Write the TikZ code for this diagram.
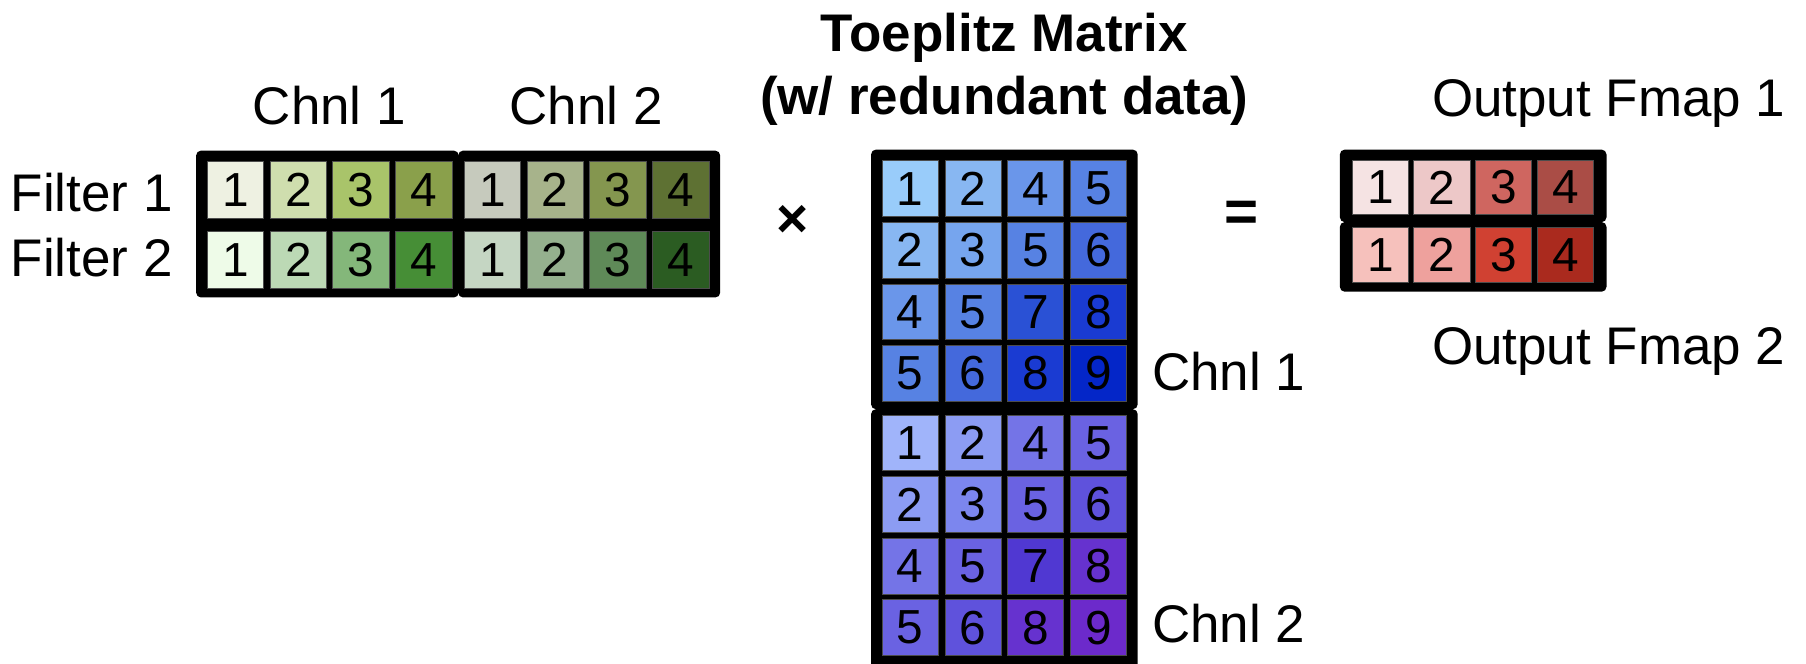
\documentclass[tikz,border=0pt]{standalone}
\usepackage{fontspec}
\setmainfont{Liberation Sans}
\usetikzlibrary{positioning}

% filter weights, channel 1 then channel 2
\definecolor{flt11}{HTML}{EEF1E2}\definecolor{flt12}{HTML}{CFDEAE}
\definecolor{flt13}{HTML}{A9C46A}\definecolor{flt14}{HTML}{8AA04B}
\definecolor{flt15}{HTML}{C6CABD}\definecolor{flt16}{HTML}{A7B38B}
\definecolor{flt17}{HTML}{84964F}\definecolor{flt18}{HTML}{5E7133}
\definecolor{flt21}{HTML}{EEFBE8}\definecolor{flt22}{HTML}{BCD9B5}
\definecolor{flt23}{HTML}{84B77A}\definecolor{flt24}{HTML}{468E36}
\definecolor{flt25}{HTML}{C5D6C3}\definecolor{flt26}{HTML}{95B08E}
\definecolor{flt27}{HTML}{5F8A58}\definecolor{flt28}{HTML}{2B5C22}
% input activations, one shade per value
\definecolor{tpz11}{HTML}{99CCFA}\definecolor{tpz12}{HTML}{88B7F2}
\definecolor{tpz13}{HTML}{76A5EE}\definecolor{tpz14}{HTML}{6A96EA}
\definecolor{tpz15}{HTML}{5782E3}\definecolor{tpz16}{HTML}{4469DC}
\definecolor{tpz17}{HTML}{2A51D5}\definecolor{tpz18}{HTML}{1A3BD2}
\definecolor{tpz19}{HTML}{0426C8}
\definecolor{tpz21}{HTML}{A0B4FA}\definecolor{tpz22}{HTML}{8C9CF3}
\definecolor{tpz23}{HTML}{7C86EE}\definecolor{tpz24}{HTML}{7474E7}
\definecolor{tpz25}{HTML}{6A62E2}\definecolor{tpz26}{HTML}{5F52DC}
\definecolor{tpz27}{HTML}{5038D2}\definecolor{tpz28}{HTML}{6632CF}
\definecolor{tpz29}{HTML}{6C2ACB}
% output fmaps
\definecolor{out11}{HTML}{F5E3E3}\definecolor{out12}{HTML}{EDC8C8}
\definecolor{out13}{HTML}{CF6660}\definecolor{out14}{HTML}{AA4D46}
\definecolor{out21}{HTML}{F6C1BC}\definecolor{out22}{HTML}{EEA19D}
\definecolor{out23}{HTML}{D04132}\definecolor{out24}{HTML}{AA2A1E}

\newcommand\pu{0.025cm}

\begin{document}
\begin{tikzpicture}[x=\pu,y=-\pu,inner sep=0pt,
                    font=\fontsize{32.7}{38}\selectfont]
  \tikzstyle{cell}=[draw=black!70,line width=0.5pt,minimum width=49*\pu,
                    minimum height=49*\pu,font=\fontsize{29.5}{30}\selectfont]
  \tikzstyle{blackbox}=[fill=black,rounded corners=3pt,anchor=north west]
  \tikzstyle{lbl}=[anchor=base west]

  \useasboundingbox (0,0) rectangle (1568,576);

  % black frames
  \node[blackbox,minimum width=228*\pu,minimum height=127.5*\pu] (box-c1) at (170,130.5) {};
  \node[blackbox,minimum width=227.5*\pu,minimum height=127.5*\pu] (box-c2) at (397.5,130.5) {};
  \node[blackbox,minimum width=231.5*\pu,minimum height=225.4*\pu] (box-t1) at (756,129.6) {};
  \node[blackbox,minimum width=231.5*\pu,minimum height=225*\pu] (box-t2) at (756,355) {};
  \node[blackbox,minimum width=231.5*\pu,minimum height=63*\pu] (box-o1) at (1163,129.6) {};
  \node[blackbox,minimum width=231.5*\pu,minimum height=60.5*\pu] (box-o2) at (1163,192.5) {};

  % filters
  \foreach \r/\y in {1/165,2/225.5}
    \foreach \j/\x in {1/204.5,2/259,3/313.5,4/368,5/427.5,6/482,7/536.5,8/591} {
      \pgfmathtruncatemacro\d{mod(\j-1,4)+1}
      \node[cell,fill=flt\r\j] (flt-\r-\j) at (\x,\y) {\d};
    }

  % toeplitz matrix, two channel blocks
  \foreach \b/\yo in {1/0,2/220.75}
    \foreach \r/\a in {1/0,2/1,3/3,4/4}
      \foreach \j/\c/\x in {1/1/790.25,2/2/844.75,3/4/899.25,4/5/953.75} {
        \pgfmathtruncatemacro\v{\a+\c}
        \node[cell,minimum width=48.5*\pu,minimum height=48.5*\pu,fill=tpz\b\v]
          (tpz-\b-\r-\j) at (\x,163.75+\yo+53.5*\r-53.5) {\v};
      }

  % output fmaps
  \foreach \r/\y in {1/162.75,2/221.25}
    \foreach \j/\x in {1/1198.5,2/1252,3/1305.5,4/1359}
      \node[cell,minimum height=47.5*\pu,fill=out\r\j] (out-\r-\j) at (\x,\y) {\j};

  % labels
  \node[lbl] (f1) at (9,183.8) {Filter 1};
  \node[lbl] (f2) at (9,240.2) {Filter 2};
  \node[anchor=base] (ch1) at (286,108.5) {Chnl 1};
  \node[anchor=base] (ch2) at (509,108.5) {Chnl 2};
  \node[anchor=base,font=\fontsize{32.7}{38}\bfseries] (title) at (872,44.5) {Toeplitz Matrix};
  \node[anchor=base,font=\fontsize{32.7}{38}\bfseries] (subtitle) at (872,99.5) {(w/ redundant data)};
  \node[lbl] (tc1) at (1000,339.2) {Chnl 1};
  \node[lbl] (tc2) at (1000,558) {Chnl 2};
  \node[lbl] (o1) at (1243,101.3) {Output Fmap 1};
  \node[lbl] (o2) at (1243,316.9) {Output Fmap 2};
  \node[font=\fontsize{34}{38}\bfseries] (times) at (688,192) {×};
  \node[font=\fontsize{36}{38}\bfseries] (eq) at (1078,188) {=};
\end{tikzpicture}
\end{document}
